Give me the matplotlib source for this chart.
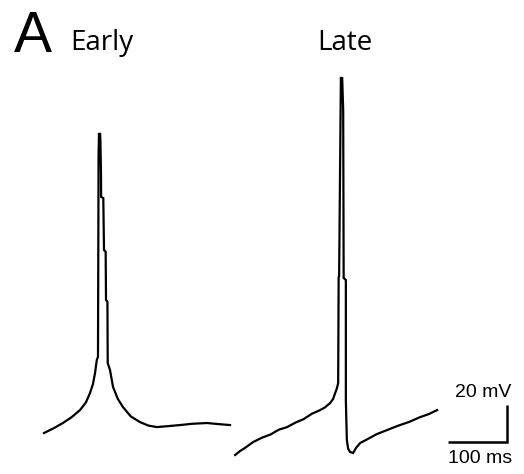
import matplotlib.pyplot as plt
import numpy as np

# traces: time (ms) from the start of each sweep, membrane potential (mV)
early_t = [0, 16, 32, 47, 61, 71, 78, 83, 86.5, 89.5, 91.5, 92.5, 93.2, 94.2, 94.9,
           95.6, 96.6, 96.8, 100.5, 101.7, 104.5, 105.1, 107.5, 108.0, 111.9, 117.0,
           125, 133.9, 147, 162.7, 177, 191.5, 210, 230.5, 252, 276.3, 296, 315.3]
early_v = [-70, -67.5, -64.6, -61.4, -57.6, -53.5, -48.4, -43.5, -37.6, -30.5, -28.9,
           80, 92.2, 84, 92.2, 88.4, 70, 57.6, 57.0, 28.9, 28.0, 1.9, 1.0, -32.2, -36.0,
           -45.1, -51.5, -56.0, -61.0, -64.1, -66.0, -66.8, -66.3, -65.7, -65.0, -64.6,
           -65.2, -65.7]

late_t = [0, 8, 16, 30.5, 45, 60, 74, 88.1, 102, 116, 130, 144.1, 152, 161.0, 166,
          169.5, 172.5, 174.6, 175.4, 176.2, 179.2, 181.4, 183.1, 183.9, 187.6, 187.6,
          189.3, 191.5, 194.9, 200.0, 205, 211.9, 225, 240, 257.6, 275, 295, 313.6,
          328, 342.4]
late_v = [-81.9, -79.8, -78.2, -74.9, -72.6, -70.8, -68.2, -66.8, -64.4, -62.5, -59.6,
          -57.6, -56.2, -53.8, -51.6, -48.4, -45.8, -43.0, 14.3, 14.8, 121.9, 121.9,
          104.6, 13.8, 12.7, -52.2, -73.8, -78.5, -80.3, -80.8, -78.0, -75.4, -73.2,
          -70.6, -68.4, -66.2, -64.0, -61.4, -59.8, -57.6]

late_offset = 324        # ms, where the late sweep is placed to the right of the early one
bar_ms, bar_mv = 100, 20

ms_per_px = 100 / 59
mv_per_px = 20 / 37

fig = plt.figure(figsize=(5.24, 4.74), dpi=100)
ax = fig.add_axes([0, 0, 1, 1])
ax.set_xlim(-44 * ms_per_px, 480 * ms_per_px)
ax.set_ylim(-70 - 41 * mv_per_px, -70 + 433 * mv_per_px)
ax.axis('off')

ax.plot(early_t, early_v, color='black', linewidth=1.6, solid_joinstyle='miter')
ax.plot(np.array(late_t) + late_offset, late_v, color='black', linewidth=1.6,
        solid_joinstyle='miter')

# scale bar
cx, cy = 785, -74.9
ax.plot([cx - bar_ms, cx, cx], [cy, cy, cy + bar_mv], color='black', linewidth=1.8,
        solid_joinstyle='miter', solid_capstyle='butt')
ax.text(cx + 7, cy + bar_mv + 4.5, '20 mV', ha='right', va='baseline',
        fontsize=14, family='Liberation Sans')
ax.text(cx - bar_ms, cy - 11.3, '100 ms', ha='left', va='baseline',
        fontsize=14, family='Liberation Sans')

fig.text(14 / 524, 1 - 52 / 474, 'A', fontsize=41, family='Liberation Sans',
         ha='left', va='baseline')
fig.text(70 / 524, 1 - 50 / 474, 'Early', fontsize=20, family='Open Sans',
         ha='left', va='baseline')
fig.text(317 / 524, 1 - 50 / 474, 'Late', fontsize=20, family='Open Sans',
         ha='left', va='baseline')

fig.savefig('out.png', dpi=100, facecolor='white')
